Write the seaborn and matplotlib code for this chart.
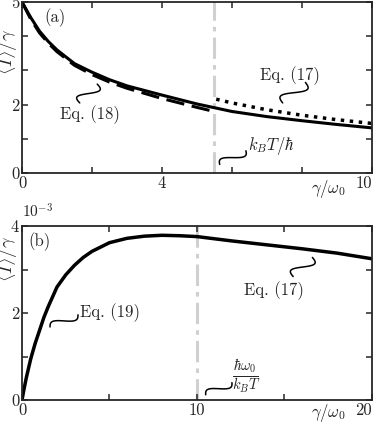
import numpy as np
import pandas as pd
import seaborn as sns
import matplotlib.pyplot as plt

# panel (a): <I>/gamma vs gamma/omega0
gamma_a = [0, 0.25, 0.5, 0.75, 1, 1.5, 2, 2.5, 3, 4, 5, 6, 7, 8, 9, 10]
exact_a = [5.0, 4.55, 4.15, 3.85, 3.6, 3.2, 2.95, 2.73, 2.55, 2.28, 2.02, 1.8, 1.65, 1.53, 1.42, 1.32]
gamma_eq18 = [0, 0.25, 0.5, 0.75, 1, 1.5, 2, 2.5, 3, 4, 5, 5.45]
eq18 = [5.0, 4.5, 4.1, 3.8, 3.55, 3.15, 2.88, 2.66, 2.48, 2.18, 1.92, 1.81]
gamma_eq17a = [5.55, 6, 7, 8, 9, 10]
eq17a = [2.16, 2.05, 1.85, 1.69, 1.56, 1.45]
kT_a = 5.5

# panel (b): values in units of 1e-3
gamma_b = [0, 0.1, 0.25, 0.5, 0.75, 1, 1.25, 1.5, 2, 2.5, 3, 3.5, 4, 5, 6, 7, 8, 9, 10, 12, 14, 16, 18, 20]
exact_b = [0, 0.22, 0.52, 0.95, 1.3, 1.6, 1.9, 2.15, 2.6, 2.88, 3.1, 3.28, 3.42, 3.62, 3.72, 3.77, 3.79, 3.78, 3.76, 3.66, 3.57, 3.48, 3.38, 3.25]
kT_b = 10

sns.set_style("ticks")
plt.rcParams["font.family"] = ["cmr10", "DejaVu Serif"]
plt.rcParams["mathtext.fontset"] = "cm"
plt.rcParams["axes.formatter.use_mathtext"] = True
plt.rcParams["font.size"] = 12

fig = plt.figure(figsize=(3.75, 4.24), dpi=100)
ax1 = fig.add_axes([0.0587, 0.592, 0.933, 0.403])
ax2 = fig.add_axes([0.0587, 0.0566, 0.933, 0.41])

sns.lineplot(x=gamma_a, y=exact_a, ax=ax1, color="black", lw=2.2)
sns.lineplot(x=gamma_eq18, y=eq18, ax=ax1, color="black", lw=2.2)
ax1.lines[-1].set_dashes([6, 2.5])
sns.lineplot(x=gamma_eq17a, y=eq17a, ax=ax1, color="black", lw=2.5)
ax1.lines[-1].set_linestyle((0, (1, 1.6)))
ax1.axvline(kT_a, color="#d0d0d0", lw=2.2, ls=(0, (7, 2, 1.5, 2)), zorder=0)

sns.lineplot(x=gamma_b, y=exact_b, ax=ax2, color="black", lw=2.5)
ax2.axvline(kT_b, color="#d0d0d0", lw=2.2, ls=(0, (7, 2, 1.5, 2)), zorder=0)


def squiggle(ax, x0, y0, x1, y1):
    # small wavy connector between label and curve
    t = np.linspace(0, 1, 40)
    dx, dy = x1 - x0, y1 - y0
    L = np.hypot(dx, dy)
    nx, ny = -dy / L, dx / L
    w = 0.18 * L * np.sin(2 * np.pi * t)
    ax.plot(x0 + dx * t + nx * w, y0 + dy * t + ny * w, color="black", lw=1.1,
            transform=ax.transAxes, clip_on=False)


for ax, xmax, xt, xl, ymax, yt, yl in [
    (ax1, 10, [0, 2, 4, 6, 8, 10], ["0", "", "4", "", "", "10"], 5, [0, 1, 2, 3, 4, 5], ["0", "", "2", "", "", "5"]),
    (ax2, 20, [0, 5, 10, 15, 20], ["0", "", "10", "", "20"], 4, [0, 1, 2, 3, 4], ["0", "", "2", "", "4"]),
]:
    ax.set_xlim(0, xmax)
    ax.set_ylim(0, ymax)
    ax.set_xticks(xt)
    ax.set_xticklabels(xl)
    ax.set_yticks(yt)
    ax.set_yticklabels(yl)
    ax.tick_params(direction="in", top=True, right=True, length=4, width=1.1, pad=2, labelsize=12)
    ax.get_xticklabels()[-1].set_horizontalalignment("right")
    for s in ax.spines.values():
        s.set_linewidth(1.3)
    ax.set_xlabel("")
    ax.set_ylabel("")

ax2.text(0.0, 1.03, r"$10^{-3}$", transform=ax2.transAxes, ha="left", va="bottom", fontsize=11)

# axis labels
ax1.text(0.875, -0.095, r"$\gamma/\omega_0$", transform=ax1.transAxes, ha="center", va="center", fontsize=12)
ax2.text(0.875, -0.075, r"$\gamma/\omega_0$", transform=ax2.transAxes, ha="center", va="center", fontsize=12)
ax1.text(-0.043, 0.71, r"$\langle I\rangle/\gamma$", transform=ax1.transAxes, rotation=90, ha="center", va="center", fontsize=13)
ax2.text(-0.043, 0.81, r"$\langle I\rangle/\gamma$", transform=ax2.transAxes, rotation=90, ha="center", va="center", fontsize=13)

# panel (a) annotations
ax1.text(0.065, 0.91, "(a)", transform=ax1.transAxes, ha="left", va="center", fontsize=12)
ax1.text(0.11, 0.34, "Eq. (18)", transform=ax1.transAxes, ha="left", va="center", fontsize=12)
squiggle(ax1, 0.165, 0.41, 0.215, 0.52)
ax1.text(0.68, 0.57, "Eq. (17)", transform=ax1.transAxes, ha="left", va="center", fontsize=12)
squiggle(ax1, 0.745, 0.41, 0.81, 0.53)
ax1.text(0.645, 0.16, r"$k_BT/\hbar$", transform=ax1.transAxes, ha="left", va="center", fontsize=12)
squiggle(ax1, 0.565, 0.05, 0.64, 0.13)

# panel (b) annotations
ax2.text(0.018, 0.91, "(b)", transform=ax2.transAxes, ha="left", va="center", fontsize=12)
ax2.text(0.165, 0.5, "Eq. (19)", transform=ax2.transAxes, ha="left", va="center", fontsize=12)
squiggle(ax2, 0.08, 0.42, 0.16, 0.49)
ax2.text(0.635, 0.63, "Eq. (17)", transform=ax2.transAxes, ha="left", va="center", fontsize=12)
squiggle(ax2, 0.775, 0.71, 0.83, 0.82)
ax2.text(0.6, 0.135, r"$\frac{\hbar\omega_0}{k_BT}$", transform=ax2.transAxes, ha="left", va="center", fontsize=15)
squiggle(ax2, 0.525, 0.03, 0.6, 0.1)

fig.savefig("out.png", dpi=100)
